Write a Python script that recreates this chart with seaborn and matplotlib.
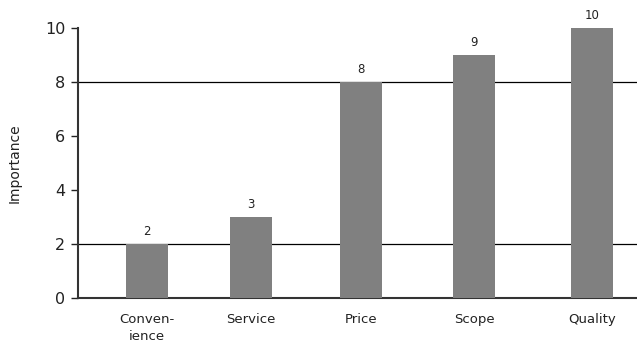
import matplotlib
matplotlib.use("Agg")
import matplotlib.pyplot as plt
import seaborn as sns
import pandas as pd

# Data
categories = ["Conven-\nience", "Service", "Price", "Scope", "Quality"]
values = [2, 3, 8, 9, 10]
reference_lines = [2, 8]
yticks = [0, 2, 4, 6, 8, 10]

# Layout (horizontal positions of bars as in the original, uneven spacing)
positions = [0.0, 1.0, 2.058, 3.144, 4.279]

sns.set_theme(style="white")
plt.rcParams['font.family'] = ['DejaVu Sans']

fig = plt.figure(figsize=(6.37, 3.45), dpi=100)
ax = fig.add_axes([78/637, 47/345, 1 - 78/637, 270/345])

df = pd.DataFrame({"pos": positions, "value": values})
sns.barplot(data=df, x="pos", y="value", native_scale=True, width=0.4,
            color="#808080", saturation=1, edgecolor="none", ax=ax, zorder=3)

for r in reference_lines:
    ax.axhline(r, color="black", linewidth=0.9, zorder=2)

for c in ax.containers:
    ax.bar_label(c, labels=[str(v) for v in values], padding=4, fontsize=8.5, color="#222222")

ax.set_xlim(-0.663, 4.71)
ax.set_ylim(0, 10)
ax.set_yticks(yticks)
ax.set_yticklabels([str(t) for t in yticks], fontsize=11.5, color="#222222")
ax.set_xticks(positions)
ax.set_xticklabels(categories, fontsize=9.5, color="#222222", linespacing=1.35)
ax.tick_params(axis="y", length=5, width=1, color="#222222", left=True, pad=4)
ax.tick_params(axis="x", length=0, pad=11)
ax.set_xlabel("")
ax.set_ylabel("Importance", fontsize=10, color="#222222", labelpad=17)

for s in ["top", "right"]:
    ax.spines[s].set_visible(False)
for s in ["left", "bottom"]:
    ax.spines[s].set_color("#333333")
    ax.spines[s].set_linewidth(1.5)

fig.savefig("out.png", dpi=100)
